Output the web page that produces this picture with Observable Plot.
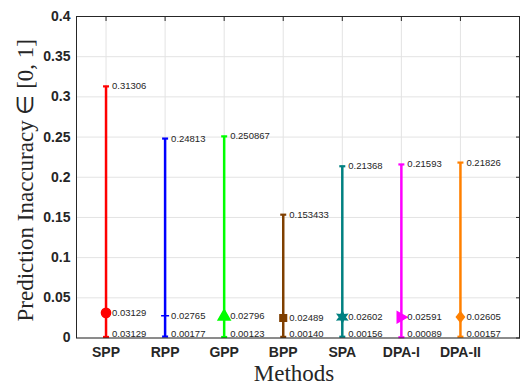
<!DOCTYPE html>
<html><head><meta charset="utf-8">
<script src="https://cdn.jsdelivr.net/npm/d3@7"></script>
<script src="https://cdn.jsdelivr.net/npm/@observablehq/plot@0.6"></script>
<style>body{margin:0;background:#fff}</style>
</head><body><div id="chart"></div>
<script>
const methods = ["SPP", "RPP", "GPP", "BPP", "SPA", "DPA-I", "DPA-II"];
const maxValues = [0.31306, 0.24813, 0.250867, 0.153433, 0.21368, 0.21593, 0.21826];
const meanValues = [0.03129, 0.02765, 0.02796, 0.02489, 0.02602, 0.02591, 0.02605];
const minValues = [0.0013, 0.00177, 0.00123, 0.00140, 0.00156, 0.00089, 0.00157];
const maxLabels = ["0.31306", "0.24813", "0.250867", "0.153433", "0.21368", "0.21593", "0.21826"];
const meanLabels = ["0.03129", "0.02765", "0.02796", "0.02489", "0.02602", "0.02591", "0.02605"];
const minLabels = ["0.03129", "0.00177", "0.00123", "0.00140", "0.00156", "0.00089", "0.00157"];
const yTicks = [0, 0.05, 0.1, 0.15, 0.2, 0.25, 0.3, 0.35, 0.4];
const yTickLabels = ["0", "0.05", "0.1", "0.15", "0.2", "0.25", "0.3", "0.35", "0.4"];
const xLabel = "Methods";
const yLabel = "Prediction Inaccuracy \u2208 [0, 1]";

// styles
const colors = ["#ff0000", "#0000ff", "#00ff00", "#7f3f00", "#008080", "#ff00ff", "#ff8000"];
const markers = ["circle", "plus", "triangle", "square", "hexagram", "triangleRight", "diamond"];

const symbols = {
  circle: {draw(c) { const r = 4.6; c.moveTo(r, 0); c.arc(0, 0, r, 0, 2 * Math.PI); c.closePath(); }},
  plus: {draw(c) { const r = 4; c.moveTo(-r, 0); c.lineTo(r, 0); c.moveTo(0, -r); c.lineTo(0, r); }},
  triangle: {draw(c) { const r = 6; c.moveTo(0, -r); c.lineTo(r, r * 0.75); c.lineTo(-r, r * 0.75); c.closePath(); }},
  square: {draw(c) { const r = 3.3; c.rect(-r, -r, 2 * r, 2 * r); }},
  hexagram: {draw(c) {
    const R = 5.5, q = 2.8;
    for (let k = 0; k < 12; k++) {
      const a = -Math.PI / 2 + k * Math.PI / 6, rr = k % 2 ? q : R;
      const px = rr * Math.cos(a), py = rr * Math.sin(a);
      if (k === 0) c.moveTo(px, py); else c.lineTo(px, py);
    }
    c.closePath();
  }},
  triangleRight: {draw(c) { const r = 5.5; c.moveTo(r, 0); c.lineTo(-r * 0.75, -r); c.lineTo(-r * 0.75, r); c.closePath(); }},
  diamond: {draw(c) { const r = 5; c.moveTo(0, -r); c.lineTo(r * 0.8, 0); c.lineTo(0, r); c.lineTo(-r * 0.8, 0); c.closePath(); }},
  cap: {draw(c) { const w = 3; c.moveTo(-w, 0); c.lineTo(w, 0); }}
};

const data = methods.map((m, i) => ({
  x: i + 1, method: m,
  max: maxValues[i], mean: meanValues[i], min: minValues[i],
  maxLabel: maxLabels[i], meanLabel: meanLabels[i], minLabel: minLabels[i],
  color: colors[i], marker: markers[i]
}));
const xTicks = methods.map((m, i) => i + 1);

const textColor = "#262626";
const plot = Plot.plot({
  width: 521,
  height: 385,
  marginLeft: 76,
  marginRight: 2,
  marginTop: 16,
  marginBottom: 47.5,
  style: {fontFamily: "'Liberation Sans', Arial, sans-serif", color: textColor, background: "#fff", overflow: "visible"},
  x: {domain: [0.5, 8]},
  y: {domain: [0, 0.4]},
  symbol: {domain: Object.keys(symbols), range: Object.values(symbols)},
  marks: [
    Plot.gridY({ticks: yTicks, stroke: "#e3e3e3", strokeOpacity: 1}),
    Plot.gridX({ticks: xTicks, stroke: "#e3e3e3", strokeOpacity: 1}),
    Plot.axisY({ticks: yTicks, tickFormat: (d, i) => yTickLabels[i], tickSize: 0, tickPadding: 6,
      fontSize: 14, fontWeight: "bold", label: null, fill: textColor}),
    Plot.axisX({ticks: xTicks, tickFormat: d => methods[d - 1], tickSize: 0, tickPadding: 9,
      fontSize: 14, fontWeight: "bold", label: null, fill: textColor}),
    Plot.axisY({anchor: "right", ticks: yTicks, tickSize: -4, tickFormat: () => "", label: null, stroke: textColor}),
    Plot.axisX({anchor: "top", ticks: xTicks, tickSize: -4, tickFormat: () => "", label: null, stroke: textColor}),
    Plot.ruleX(data, {x: "x", y1: "min", y2: "max", stroke: "color", strokeWidth: 2.5}),
    Plot.dot(data, {x: "x", y: "max", symbol: () => "cap", stroke: "color", strokeWidth: 2.2, fill: "none"}),
    Plot.dot(data, {x: "x", y: "min", symbol: () => "cap", stroke: "color", strokeWidth: 2.2, fill: "none"}),
    Plot.dot(data, {x: "x", y: "mean", symbol: "marker", stroke: "color", fill: "color", strokeWidth: 1.5}),
    Plot.text(data, {x: "x", y: "max", text: "maxLabel", dx: 6, textAnchor: "start", fontSize: 9.5, fill: textColor}),
    Plot.text(data, {x: "x", y: "mean", text: "meanLabel", dx: 6, textAnchor: "start", fontSize: 9.5, fill: textColor}),
    Plot.text(data, {x: "x", y: "min", text: "minLabel", dx: 6, dy: -3, textAnchor: "start", fontSize: 9.5, fill: textColor}),
    Plot.frame({stroke: textColor, strokeWidth: 1}),
    Plot.text([xLabel], {text: d => d, frameAnchor: "bottom", lineAnchor: "middle", textAnchor: "middle",
      dy: 36, dx: -4, fontSize: 23,
      fontFamily: "'Liberation Serif', 'Times New Roman', serif", fill: textColor}),
    Plot.text([yLabel], {text: d => d, frameAnchor: "left", lineAnchor: "middle", textAnchor: "middle",
      rotate: -90, dx: -51, dy: 3, fontSize: 23,
      fontFamily: "'Liberation Serif', 'Times New Roman', serif", fill: textColor})
  ]
});
document.getElementById("chart").appendChild(plot);
</script>
</body></html>
